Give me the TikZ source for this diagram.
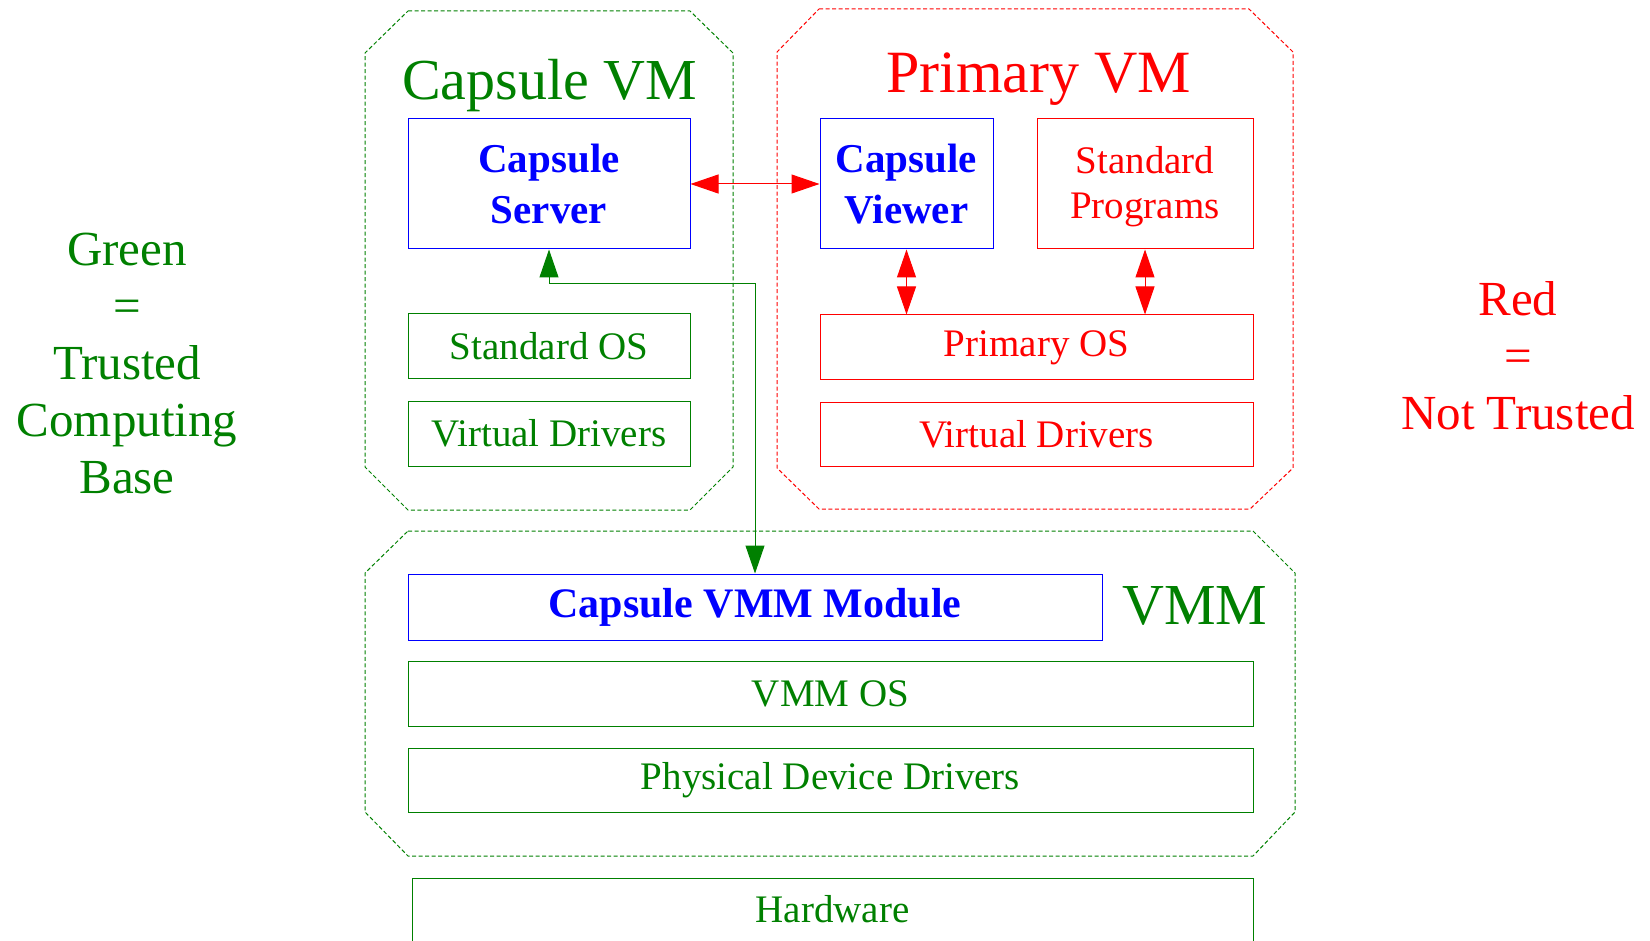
\documentclass[tikz,border=0pt]{standalone}
\usepackage{fontspec}
\setmainfont{Liberation Serif}
\usetikzlibrary{arrows.meta}
\definecolor{tcbgreen}{RGB}{0,128,0}

\tikzset{
  every node/.style={inner sep=0pt},
  gbox/.style={draw=tcbgreen, text=tcbgreen, line width=1pt, font=\fontsize{39}{45}\selectfont},
  rbox/.style={draw=red, text=red, line width=1pt, font=\fontsize{39}{45}\selectfont, align=center},
  capbox/.style={draw=blue, text=blue, line width=1pt, font=\fontsize{41}{51}\selectfont\bfseries, align=center},
  vmtitle/.style={font=\fontsize{58}{60}\selectfont, anchor=base},
  keytext/.style={font=\fontsize{49}{57}\selectfont, align=center, anchor=north},
  vmline/.style={dash pattern=on 4pt off 2.5pt, line width=1pt},
  link/.style={<->, >={Triangle[length=28pt,width=19pt]}, line width=1pt},
}

\begin{document}
\begin{tikzpicture}[x=1pt,y=-1pt]
\useasboundingbox (0,0) rectangle (1650,941);
% virtual machine outlines
\draw [tcbgreen, vmline] (408,11) -- (690,11) -- (733,53) -- (733,467) -- (690,510) -- (408,510) -- (365,467) -- (365,53) -- cycle;
\draw [red, vmline] (819,9) -- (1249,9) -- (1293,52) -- (1293,468) -- (1250,509) -- (819,509) -- (777,468) -- (777,52) -- cycle;
\draw [tcbgreen, vmline] (408,531) -- (1253,531) -- (1295,573) -- (1295,812) -- (1253,856) -- (408,856) -- (365,812) -- (365,573) -- cycle;
\node [vmtitle, text=tcbgreen] (capvm) at (549.5,100) {Capsule VM};
\node [vmtitle, text=red, font=\fontsize{60}{62}\selectfont] (privm) at (1038.5,93) {Primary VM};
\node [vmtitle, text=tcbgreen] (vmm) at (1195,624) {VMM};
% capsule vm
\node [capbox, minimum width=282pt, minimum height=130pt] (server) at (549,184) {Capsule\\Server};
\node [gbox, minimum width=282pt, minimum height=65pt] (stdos) at (549,346.5) {Standard OS};
\node [gbox, minimum width=282pt, minimum height=65pt] (gdrv) at (549,433.5) {Virtual Drivers};
% primary vm
\node [capbox, minimum width=173pt, minimum height=130pt] (viewer) at (906.5,184) {Capsule\\Viewer};
\node [rbox, minimum width=216pt, minimum height=130pt] (progs) at (1145,184) {\strut Standard\\Programs};
\node [rbox, minimum width=433pt, minimum height=65pt] (prios) at (1036.5,347.5) {Primary OS\strut};
\node [rbox, minimum width=433pt, minimum height=64pt] (rdrv) at (1036.5,434) {Virtual Drivers};
% vmm
\node [capbox, minimum width=694pt, minimum height=66pt, font=\fontsize{42}{51}\selectfont\bfseries] (module) at (755,607) {Capsule VMM Module\strut};
\node [gbox, minimum width=845pt, minimum height=65pt] (vmmos) at (830.5,693.5) {VMM OS};
\node [gbox, minimum width=845pt, minimum height=64pt] (phys) at (830.5,780) {Physical Device Drivers};
\node [gbox, minimum width=841pt, text height=44pt, text depth=60pt, anchor=base] (hw) at (832.5,922) {Hardware};
% legend
\node [keytext, text=tcbgreen] (tcb) at (127,233) {Green\\=\\Trusted\\Computing\\Base};
\node [keytext, text=red] (untrusted) at (1518,281) {Red\\=\\Not Trusted};
% connections
\draw [link, red] (server.east) -- (viewer.west);
\draw [link, red] (viewer.south) -- (viewer.south |- prios.north);
\draw [link, red] (progs.south) -- (progs.south |- prios.north);
\draw [link, tcbgreen] (server.south) -- ++(0,34) -| (module.north);
\end{tikzpicture}
\end{document}
